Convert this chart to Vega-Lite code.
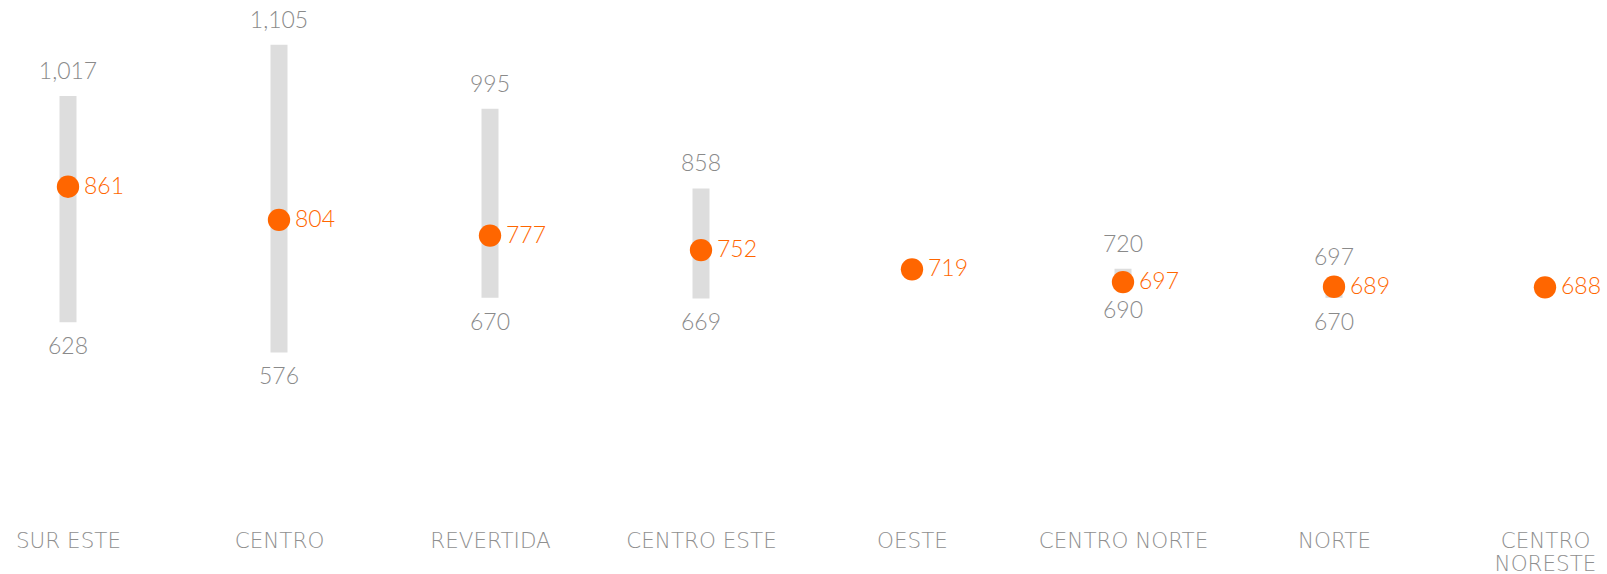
{
  "$schema": "https://vega.github.io/schema/vega-lite/v6.json",
  "width": 1607,
  "height": 520,
  "autosize": {"type": "pad"},
  "padding": 0,
  "background": "white",
  "config": {"view": {"stroke": null}, "font": "Lato"},
  "data": {
    "values": [
      {"region": "SUR ESTE", "min": 628, "max": 1017, "mean": 861},
      {"region": "CENTRO", "min": 576, "max": 1105, "mean": 804},
      {"region": "REVERTIDA", "min": 670, "max": 995, "mean": 777},
      {"region": "CENTRO ESTE", "min": 669, "max": 858, "mean": 752},
      {"region": "OESTE", "min": null, "max": null, "mean": 719},
      {"region": "CENTRO NORTE", "min": 690, "max": 720, "mean": 697},
      {"region": "NORTE", "min": 670, "max": 697, "mean": 689},
      {"region": "CENTRO NORESTE", "min": null, "max": null, "mean": 688}
    ]
  },
  "encoding": {
    "x": {
      "field": "region",
      "type": "nominal",
      "scale": {
        "type": "point",
        "padding": 0,
        "range": [68, 1545],
        "domain": ["SUR ESTE", "CENTRO", "REVERTIDA", "CENTRO ESTE", "OESTE", "CENTRO NORTE", "NORTE", "CENTRO NORESTE"]
      },
      "axis": {
        "title": null,
        "domain": false,
        "ticks": false,
        "grid": false,
        "labelAngle": 0,
        "labelFont": "DejaVu Sans",
        "labelFontWeight": 200,
        "labelFontSize": 21.5,
        "labelColor": "#8f8f8f",
        "labelPadding": 10,
        "labelLineHeight": 23,
        "labelBaseline": "top",
        "labelOverlap": false,
        "labelBound": false,
        "labelExpr": "datum.value == 'CENTRO NORESTE' ? ['CENTRO', 'NORESTE'] : datum.value"
      }
    }
  },
  "layer": [
    {
      "transform": [{"filter": "isValid(datum.min)"}],
      "mark": {"type": "bar", "size": 17, "color": "#dddddd"},
      "encoding": {
        "y": {"field": "min", "type": "quantitative", "scale": {"domain": [288, 1182], "nice": false, "zero": false}, "axis": null},
        "y2": {"field": "max"}
      }
    },
    {
      "transform": [{"filter": "isValid(datum.max)"}],
      "mark": {"type": "text", "dy": -24, "baseline": "middle", "align": "center", "font": "Lato", "fontWeight": 300, "fontSize": 23, "color": "#8a8a8a"},
      "encoding": {
        "y": {"field": "max", "type": "quantitative"},
        "text": {"field": "max", "type": "quantitative", "format": ","}
      }
    },
    {
      "transform": [{"filter": "isValid(datum.min)"}],
      "mark": {"type": "text", "dy": 25, "baseline": "middle", "align": "center", "font": "Lato", "fontWeight": 300, "fontSize": 23, "color": "#8a8a8a"},
      "encoding": {
        "y": {"field": "min", "type": "quantitative"},
        "text": {"field": "min", "type": "quantitative", "format": ","}
      }
    },
    {
      "mark": {"type": "circle", "size": 500, "color": "#ff6600", "opacity": 1},
      "encoding": {
        "y": {"field": "mean", "type": "quantitative"}
      }
    },
    {
      "mark": {"type": "text", "dx": 16, "baseline": "middle", "align": "left", "font": "Lato", "fontWeight": 300, "fontSize": 23, "color": "#ff6600"},
      "encoding": {
        "y": {"field": "mean", "type": "quantitative"},
        "text": {"field": "mean", "type": "quantitative", "format": ","}
      }
    }
  ],
  "resolve": {"scale": {"y": "shared"}}
}
